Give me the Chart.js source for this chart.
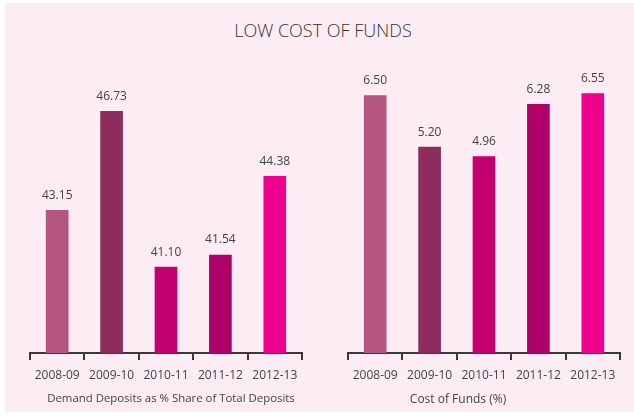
<!DOCTYPE html>
<html>
<head>
<meta charset="utf-8">
<script src="https://cdn.jsdelivr.net/npm/chart.js@4"></script>
<style>
  html, body { margin: 0; padding: 0; background: #fff; }
  #wrap { position: relative; width: 634px; height: 417px; overflow: hidden; }
  #panel { position: absolute; left: 5px; top: 3px; width: 629px; height: 409px; background: #fcecf3; }
  canvas { position: absolute; top: 0; }
  #c1 { left: 0; }
  #c2 { left: 317px; }
  .txt { position: absolute; font-family: 'Open Sans', sans-serif; color: #444; white-space: nowrap; }
  #title { left: 0; width: 646px; top: 18px; text-align: center; font-size: 18px; font-weight: 300; color: #333; }
  #t1 { left: 171px; top: 390px; font-size: 11.4px; transform: translateX(-50%); }
  #t2 { left: 458px; top: 390px; font-size: 12px; transform: translateX(-50%); }
</style>
</head>
<body>
<div id="wrap">
  <div id="panel"></div>
  <div id="title" class="txt">LOW COST OF FUNDS</div>
  <canvas id="c1" width="317" height="417"></canvas>
  <canvas id="c2" width="317" height="417"></canvas>
  <div id="t1" class="txt">Demand Deposits as % Share of Total Deposits</div>
  <div id="t2" class="txt">Cost of Funds (%)</div>
</div>
<script>
const years = ['2008-09', '2009-10', '2010-11', '2011-12', '2012-13'];
const demandDeposits = [43.15, 46.73, 41.10, 41.54, 44.38];
const costOfFunds = [6.50, 5.20, 4.96, 6.28, 6.55];
const barColors = ['#b3557f', '#8d2d5d', '#c2006f', '#b0006a', '#ec008c'];

// value labels above each bar
const valueLabels = {
  id: 'valueLabels',
  afterDatasetsDraw(chart) {
    const ctx = chart.ctx;
    const meta = chart.getDatasetMeta(0);
    const data = chart.data.datasets[0].data;
    ctx.save();
    ctx.font = '12px "Open Sans"';
    ctx.fillStyle = '#444';
    ctx.textAlign = 'center';
    ctx.textBaseline = 'bottom';
    meta.data.forEach((bar, i) => {
      ctx.fillText(data[i].toFixed(2), bar.x, bar.y - 9);
    });
    ctx.restore();
  }
};

function makeChart(id, values, yMin, yMax, padLeft, padRight) {
  return new Chart(document.getElementById(id), {
    type: 'bar',
    data: {
      labels: years,
      datasets: [{
        data: values,
        backgroundColor: barColors,
        barThickness: 22
      }]
    },
    options: {
      responsive: false,
      animation: false,
      layout: { padding: { left: padLeft, right: padRight, top: 60, bottom: 34 } },
      plugins: { legend: { display: false }, tooltip: { enabled: false } },
      scales: {
        x: {
          offset: true,
          border: { color: '#3a3a3a', width: 2 },
          grid: { offset: true, drawOnChartArea: false, color: '#3a3a3a', lineWidth: 2, tickLength: 7 },
          ticks: { color: '#444', font: { family: 'Open Sans', size: 12 }, padding: 8 },
          afterFit: s => { s.height = 30; }
        },
        y: { display: false, min: yMin, max: yMax }
      }
    },
    plugins: [valueLabels]
  });
}

makeChart('c1', demandDeposits, 38, 48.58, 30, 15);
makeChart('c2', costOfFunds, 0, 7.40, 31, 14);
</script>
</body>
</html>
